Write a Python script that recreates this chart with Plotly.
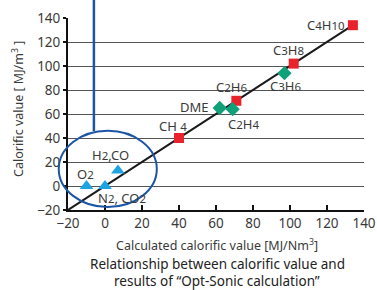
import plotly.graph_objects as go

# ---- data ----
alkanes = ["CH4", "C2H6", "C3H8", "C4H10"]
alk_x = [40, 71, 102, 134]
alk_y = [40, 71, 102, 134]

olefins = ["DME", "C2H4", "C3H6"]
ole_x = [62, 69, 97]
ole_y = [65, 64, 94]

inert = ["O2", "N2, CO2", "H2,CO"]
ine_x = [-10, 0, 7]
ine_y = [0, 0, 13]

fit_x = [-20, 134]
fit_y = [-20, 134]

x_ticks = [-20, 0, 20, 40, 60, 80, 100, 120, 140]
y_ticks = [-20, 0, 20, 40, 60, 80, 100, 120, 140]

XR = [-20, 140]
YR = [-20, 140]

def sub(d):
    return "<span style='font-size:11.5px'>" + d + "</span>"

labels = [
    ("C" + sub("4") + "H" + sub("10"), 119.5, 134),
    ("C" + sub("3") + "H" + sub("8"), 99, 113),
    ("C" + sub("2") + "H" + sub("6"), 68.6, 82.5),
    ("C" + sub("3") + "H" + sub("6"), 97.3, 83.3),
    ("DME", 48.6, 65.8),
    ("C" + sub("2") + "H" + sub("4"), 74.6, 51.7),
    ("CH " + sub("4"), 36.8, 50),
    ("H" + sub("2") + ",CO", 2.7, 25.8),
    ("O" + sub("2"), -10.3, 10),
    ("N" + sub("2") + ", CO" + sub("2"), 9.2, -10),
]

FONT = "Noto Sans"
TXT = "#3a3a3a"
BLUE = "#1d55a5"

fig = go.Figure()
fig.add_trace(go.Scatter(x=fit_x, y=fit_y, mode="lines",
                         line=dict(color="#1a1a1a", width=2), hoverinfo="skip"))
fig.add_trace(go.Scatter(x=alk_x, y=alk_y, mode="markers",
                         marker=dict(symbol="square", size=10, color="#e8232b"),
                         text=alkanes))
fig.add_trace(go.Scatter(x=ole_x, y=ole_y, mode="markers",
                         marker=dict(symbol="diamond", size=11, color="#10a07a"),
                         text=olefins))
fig.add_trace(go.Scatter(x=ine_x, y=ine_y, mode="markers",
                         marker=dict(symbol="triangle-up", size=12, color="#1ea3e3"),
                         text=inert))

def px(x):
    return (x - XR[0]) / (XR[1] - XR[0])

def py(y):
    return (y - YR[0]) / (YR[1] - YR[0])

ex0, ex1, ey0, ey1 = -25, 28, -17.5, 46
fig.add_shape(type="circle", xref="paper", yref="paper",
              x0=px(ex0), x1=px(ex1), y0=py(ey0), y1=py(ey1),
              line=dict(color=BLUE, width=2))
vx = -6
fig.add_shape(type="line", xref="paper", yref="paper",
              x0=px(vx), x1=px(vx), y0=py(45.6), y1=py(158),
              line=dict(color=BLUE, width=2.5))

for t, x, y in labels:
    fig.add_annotation(x=x, y=y, xref="x", yref="y", text=t, showarrow=False,
                       xanchor="center", yanchor="middle",
                       font=dict(family=FONT, size=13, color=TXT))

def cap(text, x, y, size, color, angle=0):
    fig.add_annotation(x=x, y=y, xref="paper", yref="paper", text=text,
                       textangle=angle, showarrow=False,
                       xanchor="center", yanchor="middle",
                       font=dict(family=FONT, size=size, color=color))

cap("Calorific value [ MJ/m<sup>3</sup> ]", -0.169, 0.526, 12.5, TXT, -90)
cap("Calculated calorific value [MJ/Nm<sup>3</sup>]", 0.505, -0.182, 12.5, TXT)
cap("Relationship between calorific value and", 0.505, -0.281, 13.5, "#222")
cap("results of “Opt-Sonic calculation”", 0.505, -0.372, 13.5, "#222")

fig.update_layout(
    width=377, height=290,
    margin=dict(l=68, r=13, t=18, b=80, autoexpand=False),
    plot_bgcolor="white", paper_bgcolor="white",
    showlegend=False,
    font=dict(family=FONT, size=13, color=TXT),
    xaxis=dict(range=XR, tickvals=x_ticks, showgrid=False, zeroline=False,
               automargin=False,
               showline=True, linecolor="#111", linewidth=2,
               ticks="inside", ticklen=5, tickwidth=2, tickcolor="#111",
               tickfont=dict(family=FONT, size=13.5, color=TXT)),
    yaxis=dict(range=YR, tickvals=y_ticks, showgrid=True, gridcolor="#555",
               gridwidth=1, zeroline=False, automargin=False,
               showline=True, linecolor="#111", linewidth=2,
               ticks="outside", ticklen=3, tickwidth=2, tickcolor="#111",
               tickfont=dict(family=FONT, size=13.5, color=TXT)),
)

fig.write_html(
    "out.html",
    config={"displayModeBar": False},
    post_script="document.body.style.margin='0';"
                "document.body.style.overflow='hidden';",
)
